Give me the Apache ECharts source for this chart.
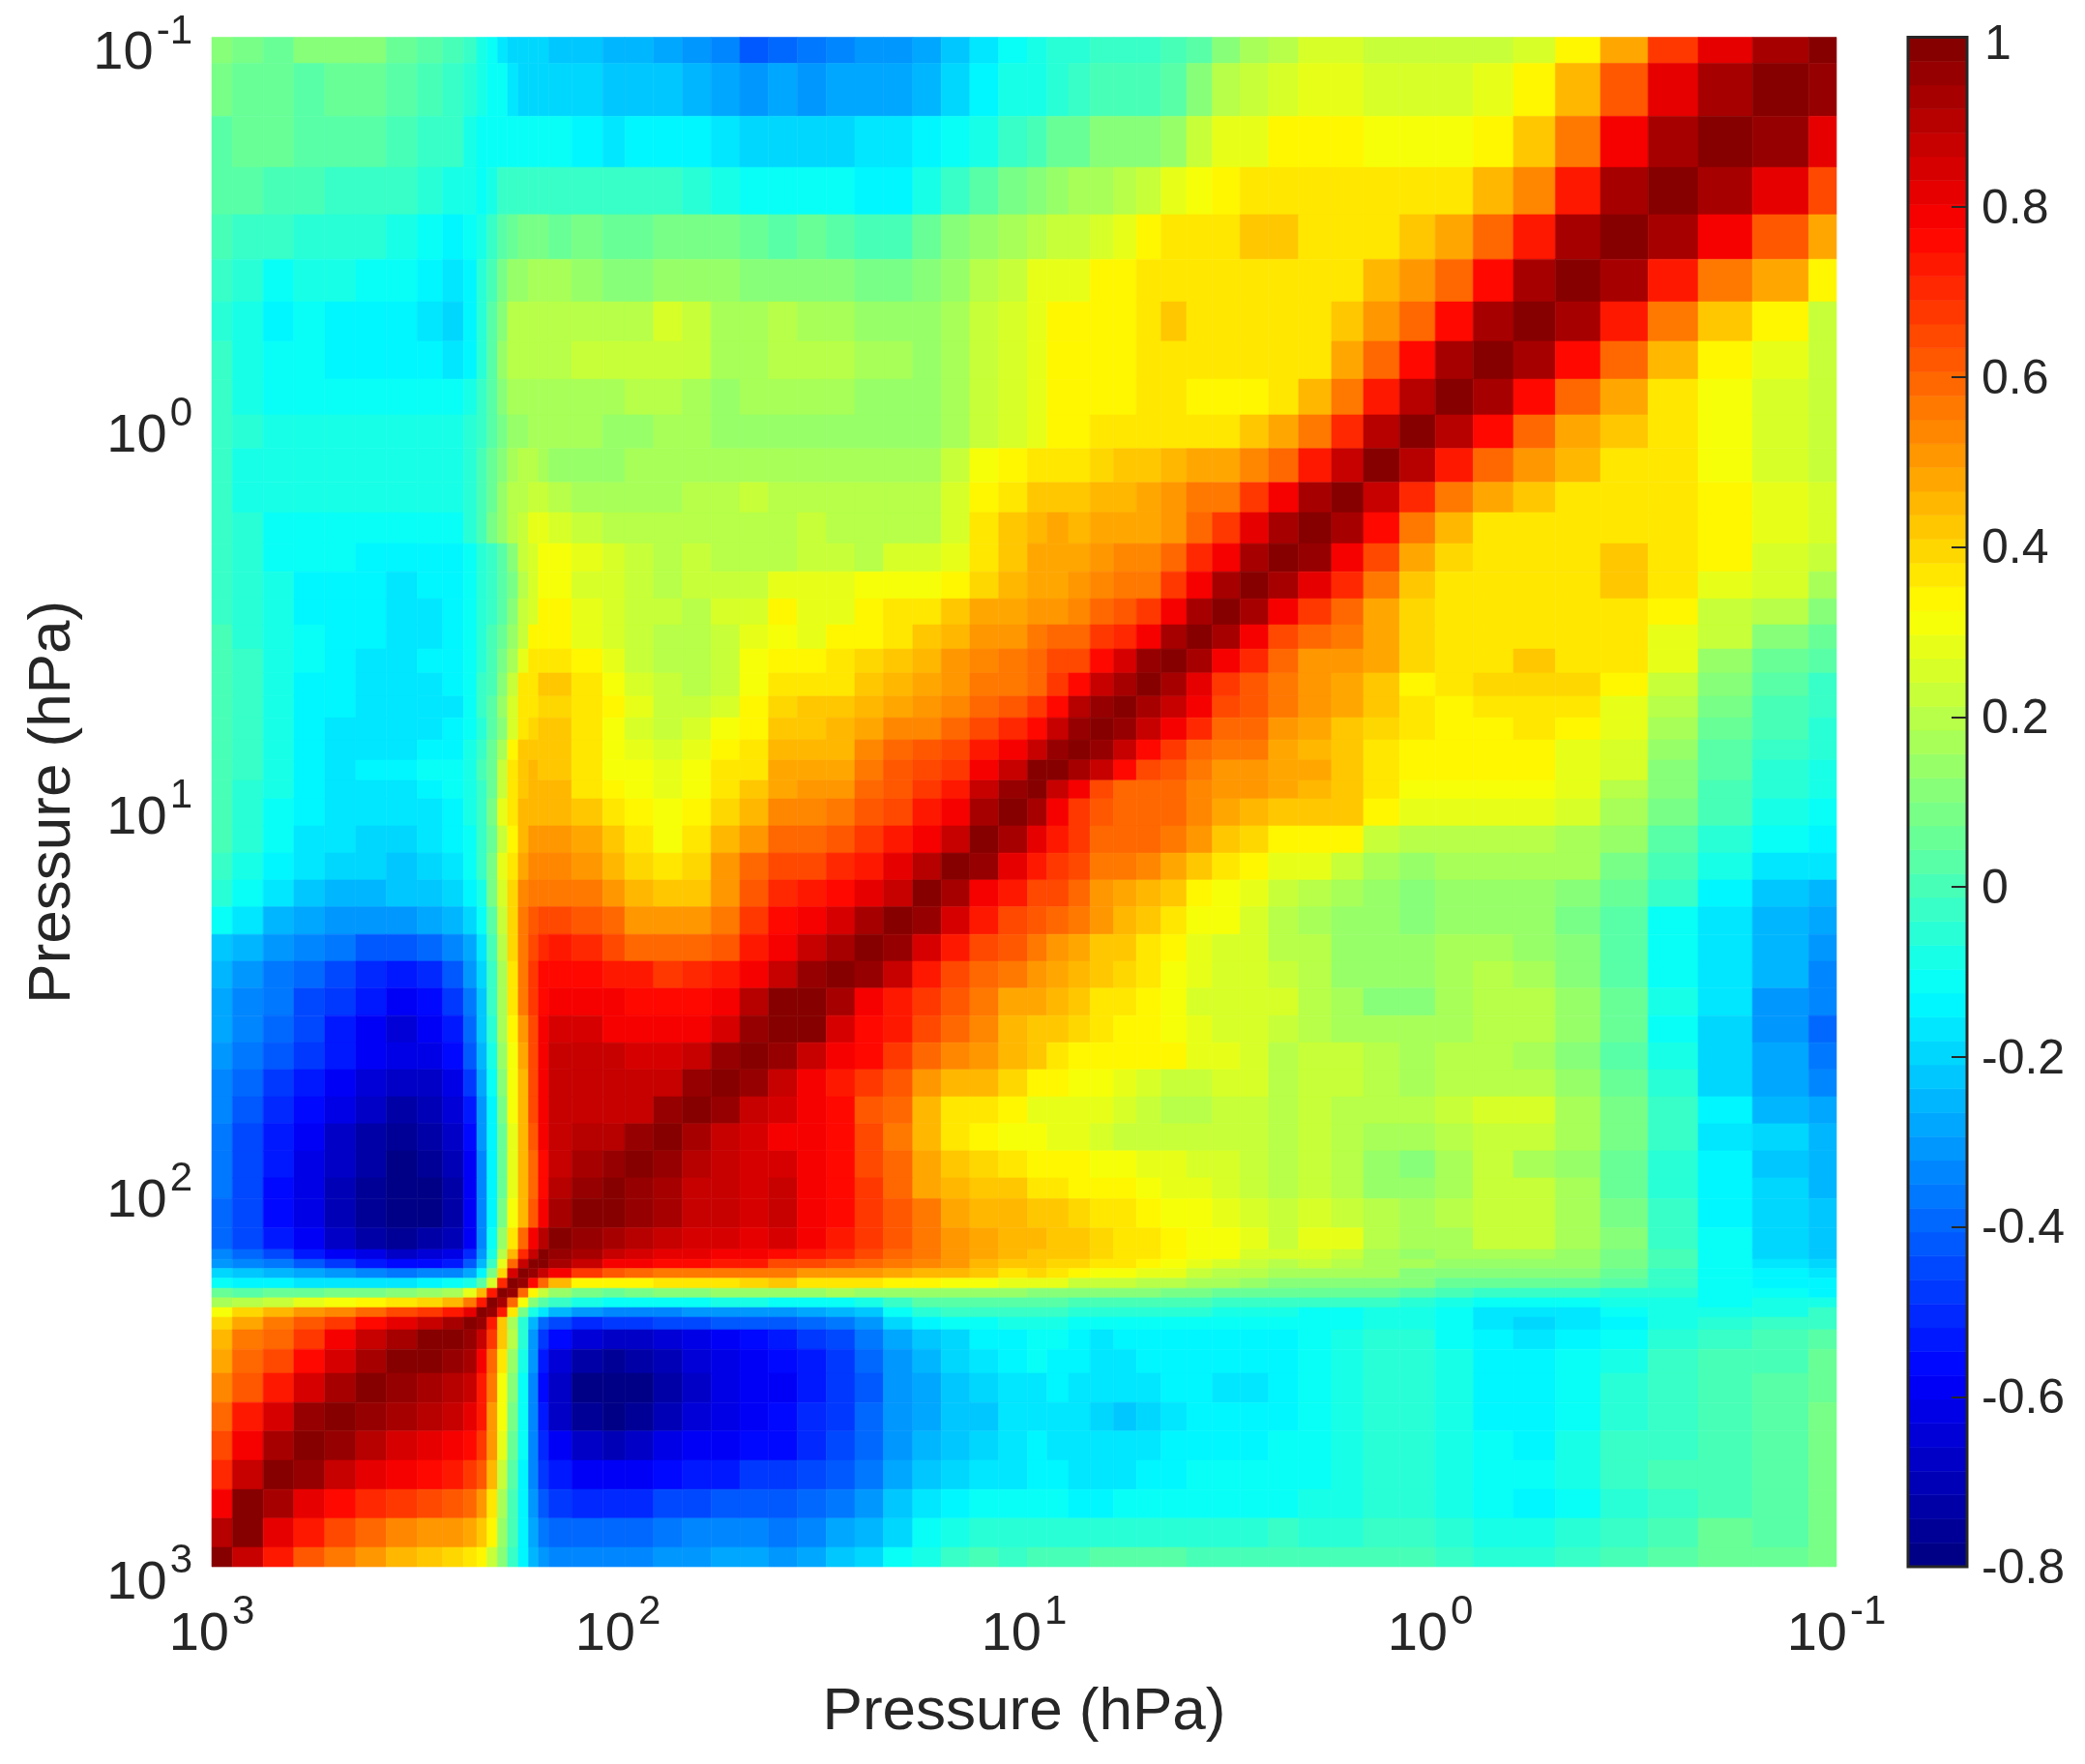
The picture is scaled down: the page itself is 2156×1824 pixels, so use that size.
<!DOCTYPE html>
<html>
<head>
<meta charset="utf-8">
<title>Pressure correlation</title>
<script src="https://cdn.jsdelivr.net/npm/echarts@6/dist/echarts.min.js"></script>
<style>
html,body{margin:0;padding:0;background:#fff;}
#chart{width:2156px;height:1824px;}
</style>
</head>
<body>
<div id="chart"></div>
<script>
// cell edges in hPa, from the bottom left corner to the top right corner
var pressureEdges = [1000,890,747,628,527,442,372,312,270,240,222.6,210,198,187,176,166,157,148,130,109,96.2,81.7,69.4,59.0,50.1,42.6,36.2,30.7,26.1,22.2,18.8,16.0,13.6,11.55,9.81,8.78,7.77,6.88,6.02,5.29,4.60,3.98,3.44,2.94,2.50,2.11,1.75,1.46,1.19,0.972,0.784,0.624,0.492,0.381,0.291,0.219,0.161,0.117,0.1];

// correlation x100. first row is the top of the plot, each row runs left to right
var correlationRows = [
[12,8,7,10,10,10,6,3,0,-4,-7,-11,-17,-19,-20,-20,-20,-21,-23,-25,-26,-27,-30,-34,-42,-38,-36,-33,-32,-30,-28,-22,-16,-11,-8,-6,-5,-4,-3,-3,0,3,10,17,20,25,25,22,22,22,22,26,33,49,68,83,94,100],
[8,7,6,4,6,6,3,0,-2,-5,-8,-10,-12,-18,-19,-19,-19,-19,-20,-21,-21,-22,-25,-28,-30,-28,-30,-27,-27,-27,-26,-20,-13,-9,-7,-5,-3,-1,0,0,3,12,20,22,26,29,29,25,25,25,28,33,46,62,83,94,98,96],
[4,5,7,3,4,4,1,-2,-4,-8,-10,-11,-12,-12,-12,-12,-12,-12,-14,-16,-15,-13,-15,-18,-19,-19,-19,-19,-17,-16,-14,-11,-7,-2,1,5,7,10,10,10,15,24,27,28,33,33,33,30,30,30,33,42,56,79,93,100,96,83],
[2,2,0,-1,-2,-2,-3,-5,-7,-9,-10,-8,-4,-3,-3,-3,-3,-3,-4,-4,-4,-4,-5,-7,-10,-10,-10,-12,-13,-13,-8,-3,3,8,11,13,16,16,20,23,28,31,33,37,38,38,38,36,36,36,44,54,73,92,100,93,83,66],
[-1,-3,-4,-5,-6,-6,-8,-10,-14,-12,-8,-2,2,6,8,8,8,7,8,6,6,8,9,8,6,4,5,2,-1,-1,5,10,13,16,20,22,22,26,29,33,36,38,38,41,42,38,38,38,42,47,58,73,93,100,93,79,63,49],
[-3,-6,-10,-9,-9,-10,-12,-14,-18,-14,-6,0,8,14,15,16,16,16,14,12,12,15,15,13,12,12,12,10,9,9,12,15,20,24,27,29,29,33,35,38,38,38,38,38,38,38,38,44,50,60,77,93,100,93,73,57,47,33],
[-5,-9,-13,-12,-14,-14,-15,-17,-19,-15,-6,2,12,19,21,21,21,21,21,19,21,25,22,16,18,19,18,17,15,15,15,17,22,25,29,33,33,35,35,38,41,38,36,38,38,38,41,50,60,77,93,100,93,73,55,42,33,24],
[-4,-9,-12,-12,-13,-13,-15,-14,-17,-14,-6,3,13,20,21,21,21,21,22,22,22,24,22,16,18,20,20,20,18,16,15,18,22,25,29,33,33,33,35,38,38,36,36,36,36,38,47,60,77,93,100,93,77,60,45,33,28,23],
[-3,-7,-10,-10,-10,-12,-10,-12,-11,-9,-3,4,12,17,18,18,18,18,16,16,19,19,17,15,16,17,17,17,15,15,15,16,22,25,29,33,33,33,33,36,36,35,35,35,38,44,55,72,89,100,93,77,60,47,36,30,25,22],
[-3,-6,-8,-8,-8,-8,-8,-8,-8,-6,-3,3,8,13,14,17,17,17,16,14,15,17,16,15,14,15,15,15,15,15,15,18,22,25,29,33,35,36,36,36,38,38,38,41,47,55,70,90,100,89,77,60,49,41,36,30,25,22],
[-3,-7,-9,-9,-9,-9,-9,-9,-8,-5,-1,5,12,17,19,19,18,15,15,15,16,18,18,16,17,17,17,17,17,17,18,22,30,34,36,36,37,40,42,42,45,47,47,53,60,72,87,100,91,74,60,50,45,38,36,30,25,22],
[-4,-8,-9,-9,-9,-9,-9,-9,-8,-5,0,6,14,19,20,22,22,20,18,18,17,18,20,20,22,20,20,19,19,19,21,25,33,38,41,41,41,44,46,47,50,55,57,68,80,93,100,87,70,55,47,42,38,38,38,33,29,25],
[-2,-6,-10,-11,-11,-11,-12,-12,-10,-6,0,8,15,19,24,27,27,25,22,21,19,19,19,19,19,20,22,20,20,20,21,26,36,42,45,47,44,47,47,47,50,58,68,82,94,100,94,75,55,46,38,38,38,38,38,33,29,25],
[-2,-6,-10,-12,-12,-13,-14,-15,-14,-10,-6,-2,4,10,22,26,30,30,29,26,22,21,22,21,20,20,24,24,20,25,25,28,37,43,47,47,47,50,54,54,60,70,80,93,100,95,80,65,49,39,36,38,38,42,38,33,26,22],
[-3,-6,-9,-14,-14,-14,-16,-15,-14,-10,-6,-2,3,9,21,26,31,31,26,25,22,20,22,23,23,27,29,29,30,31,32,35,40,44,47,47,50,53,56,56,68,79,92,100,94,82,70,55,43,36,36,38,38,42,38,29,25,17],
[-3,-6,-9,-14,-14,-14,-17,-16,-14,-10,-5,-2,4,12,22,26,33,33,28,25,23,23,20,25,26,33,29,29,33,36,37,42,47,48,50,50,53,58,62,68,80,93,100,94,78,68,58,49,39,36,36,36,38,38,33,24,19,12],
[-1,-5,-9,-12,-14,-14,-16,-16,-14,-10,-5,-1,6,14,24,33,33,33,27,25,22,20,19,23,28,30,28,33,35,38,43,46,50,50,55,58,60,67,70,80,92,100,93,78,66,58,56,49,39,36,36,38,38,38,29,22,12,5],
[1,-4,-8,-10,-14,-16,-16,-14,-14,-10,-5,0,8,17,27,36,38,38,33,27,24,20,19,22,30,33,33,36,40,43,45,50,54,55,60,65,66,76,84,95,100,94,78,70,58,52,50,47,39,38,38,42,38,36,28,15,5,2],
[1,-4,-8,-13,-15,-18,-16,-16,-15,-10,-4,1,10,24,36,38,42,42,37,30,26,22,20,23,30,38,38,38,42,46,47,50,56,56,60,67,76,88,94,100,93,83,68,63,56,50,47,43,35,36,39,39,39,33,22,10,2,-2],
[0,-4,-9,-14,-15,-18,-17,-17,-17,-12,-4,2,13,26,36,38,40,40,36,33,27,24,23,26,33,40,41,41,44,48,50,54,60,62,68,77,90,97,100,93,86,78,65,62,55,50,47,42,36,33,36,36,36,29,20,9,1,-3],
[0,-4,-9,-13,-16,-17,-17,-17,-15,-12,-6,2,10,26,38,40,42,41,38,32,26,24,26,30,35,43,42,44,49,53,54,58,64,70,77,88,95,100,97,88,80,70,60,58,50,49,42,40,36,33,33,36,33,27,16,6,-1,-5],
[0,-4,-9,-13,-17,-17,-16,-14,-13,-7,-2,5,16,33,42,42,42,41,36,32,28,26,28,33,36,44,44,45,53,58,62,66,72,79,88,96,100,95,88,77,68,60,55,55,48,46,42,37,33,33,33,33,29,25,15,4,-2,-5],
[0,-3,-9,-13,-16,-15,-14,-11,-11,-7,-1,5,22,36,42,44,41,41,36,30,30,28,30,36,38,47,47,48,56,61,65,69,78,88,98,100,92,86,76,65,62,55,50,52,47,49,42,37,33,33,33,33,29,25,12,2,-5,-8],
[-1,-5,-9,-13,-16,-16,-16,-14,-12,-8,-3,5,22,36,42,44,44,44,38,33,30,28,30,36,41,48,50,50,58,63,68,74,87,96,100,88,78,66,60,60,60,54,50,50,47,45,42,37,30,30,30,30,27,20,10,0,-6,-9],
[-1,-5,-10,-15,-17,-18,-18,-16,-15,-9,-3,8,28,36,44,46,46,46,42,37,33,30,33,39,45,53,53,56,62,66,72,80,94,100,93,80,68,62,60,60,60,53,47,46,43,42,42,33,27,27,27,27,25,18,8,-1,-8,-11],
[-1,-6,-11,-16,-18,-20,-20,-18,-15,-10,-4,5,22,34,44,50,50,50,47,42,38,32,38,44,50,58,60,63,67,72,78,88,100,94,83,74,67,60,60,58,57,50,42,40,33,33,33,23,20,20,20,20,18,13,4,-5,-11,-14],
[-2,-7,-13,-18,-20,-20,-21,-19,-17,-12,-3,8,28,36,48,53,53,53,50,46,40,38,40,50,60,65,66,70,74,82,90,100,95,83,74,69,64,57,55,53,48,43,37,33,28,27,24,17,14,16,16,17,16,9,0,-9,-16,-18],
[-5,-11,-18,-22,-25,-24,-23,-23,-20,-15,-8,8,26,40,53,57,57,57,55,50,46,42,42,50,62,70,72,76,82,88,100,93,80,72,66,66,60,50,48,46,42,35,32,28,22,20,18,13,12,14,15,14,12,5,-3,-14,-22,-25],
[-10,-16,-24,-28,-30,-30,-30,-28,-26,-20,-12,3,22,40,57,62,66,66,62,58,52,50,50,56,68,76,78,84,93,100,95,84,74,66,62,60,55,50,45,42,36,31,31,26,20,18,15,13,12,15,15,15,9,2,-10,-18,-24,-27],
[-22,-25,-32,-35,-37,-42,-42,-38,-34,-28,-18,0,20,40,56,66,70,72,70,66,60,58,58,62,72,80,86,92,100,96,84,72,66,62,56,50,48,43,42,38,33,28,25,25,19,20,15,13,13,17,18,15,10,2,-12,-18,-24,-32],
[-26,-30,-36,-40,-44,-50,-52,-50,-42,-32,-20,-2,18,38,56,68,75,77,76,72,72,68,70,72,80,86,95,100,95,87,72,65,60,55,50,48,44,42,40,38,32,27,25,26,24,20,15,13,13,18,19,18,12,3,-10,-18,-24,-34],
[-27,-33,-37,-44,-48,-54,-58,-56,-48,-36,-22,-4,18,38,55,68,76,79,78,78,77,76,76,80,90,98,100,93,80,72,67,61,55,48,47,45,42,38,37,33,30,26,25,26,26,20,18,12,12,18,19,19,13,5,-8,-18,-30,-35],
[-28,-33,-38,-45,-52,-58,-65,-60,-52,-40,-23,-5,16,34,50,66,78,84,84,80,80,80,78,85,97,100,98,85,76,72,66,60,53,46,42,42,40,36,35,33,30,28,26,26,24,20,18,16,17,18,19,19,13,5,-10,-20,-30,-38],
[-32,-36,-42,-48,-54,-58,-63,-62,-56,-42,-24,-8,14,32,48,66,78,86,87,86,84,84,87,96,100,96,88,80,75,68,59,54,50,45,42,38,35,34,33,33,33,28,27,25,21,24,24,19,17,19,20,17,10,3,-8,-20,-29,-37],
[-34,-40,-48,-54,-60,-65,-68,-67,-62,-48,-28,-12,10,30,46,66,80,87,88,87,86,88,96,100,96,88,80,73,68,62,52,46,44,40,35,33,30,30,28,26,24,24,25,25,20,23,23,20,18,19,21,21,15,5,-6,-19,-29,-33],
[-35,-42,-50,-56,-62,-68,-72,-70,-64,-52,-30,-14,8,30,46,64,80,87,88,88,88,95,100,95,88,84,80,77,63,58,45,38,36,33,28,27,27,27,25,24,20,20,22,23,19,23,20,20,20,23,26,26,18,8,-4,-15,-25,-28],
[-36,-44,-52,-59,-66,-72,-76,-74,-68,-56,-32,-15,6,28,44,62,78,87,90,90,96,100,94,88,84,80,78,76,66,57,45,38,33,31,30,28,28,26,24,24,23,23,24,24,19,23,19,17,17,20,23,23,16,8,-3,-16,-20,-26],
[-36,-45,-54,-61,-68,-74,-78,-77,-70,-58,-34,-14,6,28,44,60,76,88,92,96,100,95,90,87,84,84,80,75,65,58,48,43,39,36,34,33,33,31,30,27,27,26,25,24,19,23,19,13,12,18,23,18,14,6,-5,-15,-22,-25],
[-37,-46,-55,-62,-70,-76,-79,-78,-72,-58,-34,-14,6,28,44,58,76,90,95,100,97,93,88,86,84,86,80,75,67,60,48,44,43,41,38,36,34,33,33,30,28,27,26,24,20,23,20,15,15,18,23,22,17,6,-5,-15,-20,-24],
[-38,-46,-55,-62,-70,-77,-80,-79,-73,-58,-34,-13,8,30,46,62,80,93,100,98,96,92,88,86,84,87,80,76,69,63,56,48,46,44,42,41,39,38,36,34,30,30,27,26,23,26,22,20,16,19,23,22,17,8,-4,-13,-19,-21],
[-38,-46,-54,-60,-66,-73,-76,-74,-70,-58,-35,-10,14,38,60,78,90,100,97,93,90,87,85,84,82,84,78,73,68,62,57,50,47,45,44,42,42,39,38,37,33,32,32,27,24,27,27,19,17,18,22,22,16,10,-2,-12,-19,-21],
[-33,-40,-46,-52,-58,-63,-66,-65,-61,-50,-32,-8,20,45,70,88,100,97,92,87,84,83,82,80,78,76,72,70,65,60,56,50,47,44,43,42,42,39,38,36,33,32,30,26,25,25,22,18,15,17,18,17,14,9,-1,-12,-19,-21],
[-30,-33,-37,-42,-47,-52,-55,-55,-52,-43,-25,-2,28,60,86,100,98,93,86,80,78,76,75,74,72,66,64,63,60,57,53,50,45,43,42,40,39,38,36,34,31,29,26,23,20,22,20,18,16,15,15,15,13,8,-1,-12,-18,-20],
[-20,-23,-26,-29,-32,-35,-36,-35,-33,-28,-14,8,40,85,100,95,88,78,68,62,58,56,55,55,55,55,52,52,50,48,46,45,42,38,39,38,34,31,30,29,27,23,21,20,16,17,17,16,12,12,10,10,10,5,-2,-12,-15,-18],
[-12,-14,-15,-16,-17,-16,-16,-14,-12,-8,4,26,70,100,95,75,60,46,33,33,34,36,37,37,40,42,38,38,38,35,34,32,30,28,28,29,24,22,22,21,20,17,16,14,12,12,12,11,10,7,7,7,6,3,-3,-12,-13,-15],
[5,4,5,6,8,9,10,14,18,28,45,72,100,95,60,35,22,14,8,7,8,10,12,13,14,15,14,16,14,14,14,14,13,13,12,12,10,10,10,10,9,8,7,6,6,6,6,5,4,0,-2,-2,-2,-5,-6,-12,-12,-13],
[18,20,24,27,30,34,36,40,46,56,72,100,92,60,30,10,2,-4,-8,-10,-11,-10,-10,-9,-8,-10,-10,-10,-7,-2,2,3,4,3,4,3,1,1,0,0,-1,-1,-2,-2,-3,-3,-3,-2,-5,-7,-10,-10,-10,-9,-8,-10,-9,-8],
[32,40,46,50,54,60,64,68,74,82,100,95,72,38,8,-8,-16,-24,-30,-33,-33,-34,-32,-30,-30,-30,-28,-25,-22,-12,-6,-4,-3,-2,-3,-3,-6,-6,-6,-5,-5,-6,-7,-7,-8,-10,-10,-7,-7,-12,-16,-17,-16,-12,-9,-8,-7,-4],
[40,48,55,62,68,76,82,88,94,100,95,72,42,18,-6,-26,-38,-46,-50,-48,-47,-46,-44,-42,-41,-42,-40,-36,-30,-20,-13,-10,-10,-8,-8,-8,-10,-10,-10,-10,-10,-10,-10,-10,-10,-10,-12,-7,-9,-12,-17,-19,-17,-15,-9,-6,-4,-2],
[45,55,60,68,78,86,93,99,100,96,88,68,42,20,-6,-30,-47,-56,-64,-67,-66,-64,-62,-60,-56,-53,-48,-44,-36,-27,-23,-20,-15,-13,-11,-12,-14,-17,-14,-13,-13,-13,-14,-14,-14,-10,-7,-5,-5,-12,-15,-18,-15,-11,-6,-3,0,4],
[48,58,66,75,85,94,98,100,97,93,78,60,36,14,-8,-32,-52,-64,-74,-76,-74,-70,-65,-62,-60,-57,-53,-48,-40,-30,-25,-20,-17,-15,-11,-13,-15,-18,-17,-14,-14,-13,-13,-14,-14,-12,-7,-5,-5,-7,-15,-15,-12,-7,-3,-1,1,5],
[53,63,74,85,94,100,96,93,90,86,74,55,32,10,-10,-34,-55,-68,-78,-80,-78,-72,-67,-62,-60,-58,-54,-48,-42,-32,-27,-22,-20,-18,-17,-14,-17,-18,-18,-17,-15,-15,-17,-17,-14,-12,-7,-5,-5,-7,-13,-15,-12,-6,-2,1,3,6],
[58,72,84,95,100,96,92,89,86,83,72,52,30,8,-10,-34,-54,-67,-76,-78,-76,-70,-65,-61,-60,-57,-51,-47,-40,-32,-27,-23,-21,-18,-18,-18,-18,-20,-21,-19,-17,-15,-14,-13,-13,-12,-7,-5,-5,-9,-15,-15,-10,-5,-2,1,3,9],
[64,80,92,100,97,89,85,83,80,76,68,50,28,5,-12,-33,-50,-60,-68,-70,-68,-63,-60,-58,-55,-55,-50,-45,-38,-30,-25,-22,-20,-17,-15,-17,-18,-18,-18,-17,-15,-13,-13,-13,-12,-10,-7,-5,-5,-8,-12,-14,-8,-4,-2,1,3,9],
[70,88,100,96,87,82,78,75,72,68,62,44,22,2,-14,-34,-47,-54,-60,-60,-60,-56,-53,-52,-49,-48,-45,-42,-36,-28,-22,-19,-16,-16,-13,-14,-17,-17,-17,-15,-14,-12,-12,-12,-11,-10,-7,-6,-6,-7,-12,-12,-8,-4,-1,1,3,8],
[78,100,93,82,75,70,67,64,62,58,52,38,18,0,-15,-30,-42,-47,-50,-50,-50,-46,-45,-43,-42,-43,-40,-36,-31,-23,-17,-13,-12,-12,-11,-12,-13,-13,-12,-12,-10,-10,-11,-10,-10,-7,-7,-6,-6,-7,-12,-14,-10,-5,-2,1,2,8],
[90,100,83,73,65,59,54,52,50,47,42,33,15,-1,-15,-28,-36,-38,-40,-39,-38,-36,-35,-33,-33,-37,-33,-28,-25,-19,-11,-7,-5,-5,-5,-5,-5,-6,-5,-6,-6,-5,-5,-5,-4,-5,-5,-4,-4,-6,-8,-9,-5,-2,1,5,4,8],
[100,87,72,62,55,50,45,42,40,37,33,24,10,-2,-14,-24,-30,-33,-34,-33,-33,-30,-30,-28,-27,-30,-27,-23,-20,-12,-7,-3,-1,-2,-1,0,0,2,2,3,3,1,0,1,1,-1,-1,0,0,-3,-5,-5,-3,0,3,5,6,9]
];

var colorMin = -0.8;
var colorMax = 1;
var colorSteps = 64;

var textColor = '#262626';
var fontName = '"Liberation Sans", Arial, sans-serif';

function clamp01(v) {
    return Math.max(0, Math.min(1, v));
}

// matlab jet, cut in 64 steps
function jetColor(value) {
    var i = Math.floor((value - colorMin) / (colorMax - colorMin) * colorSteps);
    i = Math.max(0, Math.min(colorSteps - 1, i));
    var t = (i + 0.5) / colorSteps;
    var r = clamp01(1.5 - Math.abs(4 * t - 3));
    var g = clamp01(1.5 - Math.abs(4 * t - 2));
    var b = clamp01(1.5 - Math.abs(4 * t - 1));
    return 'rgb(' + Math.round(r * 255) + ',' + Math.round(g * 255) + ',' + Math.round(b * 255) + ')';
}

var cells = [];
for (var r = 0; r < correlationRows.length; r++) {
    var rowIndex = correlationRows.length - 1 - r;
    for (var c = 0; c < correlationRows[r].length; c++) {
        cells.push([pressureEdges[c], pressureEdges[c + 1], pressureEdges[rowIndex], pressureEdges[rowIndex + 1], correlationRows[r][c] / 100]);
    }
}

var bands = [];
for (var s = 0; s < colorSteps; s++) {
    var low = colorMin + (colorMax - colorMin) * s / colorSteps;
    var high = colorMin + (colorMax - colorMin) * (s + 1) / colorSteps;
    bands.push([low, high]);
}

function renderCell(params, api) {
    var a = api.coord([api.value(0), api.value(2)]);
    var b = api.coord([api.value(1), api.value(3)]);
    var color = jetColor(api.value(4));
    return {
        type: 'rect',
        shape: {x: Math.min(a[0], b[0]), y: Math.min(a[1], b[1]), width: Math.abs(b[0] - a[0]), height: Math.abs(b[1] - a[1])},
        style: {fill: color, stroke: color, lineWidth: 0.6}
    };
}

function renderBand(params, api) {
    var a = api.coord([0, api.value(0)]);
    var b = api.coord([1, api.value(1)]);
    var color = jetColor((api.value(0) + api.value(1)) / 2);
    return {
        type: 'rect',
        shape: {x: a[0], y: b[1], width: b[0] - a[0], height: a[1] - b[1]},
        style: {fill: color, stroke: color, lineWidth: 0.6}
    };
}

// dark outline around the colour bar
function renderFrame(params, api) {
    var a = api.coord([0, colorMin]);
    var b = api.coord([1, colorMax]);
    return {
        type: 'rect',
        shape: {x: a[0], y: b[1], width: b[0] - a[0], height: a[1] - b[1]},
        style: {fill: null, stroke: textColor, lineWidth: 3}
    };
}

function powerLabel(value) {
    return '{b|10}{s|' + Math.round(Math.log10(value)) + '}';
}

// both tokens get the same height, the padding lifts the exponent above the 10
var powerRich = {
    b: {fontSize: 56, fontFamily: fontName, color: textColor, lineHeight: 42, padding: [17, 0, 0, 0]},
    s: {fontSize: 42, fontFamily: fontName, color: textColor, lineHeight: 30, padding: [0, 0, 29, 3]}
};

var myChart = echarts.init(document.getElementById('chart'), null, {renderer: 'canvas'});

var option = {
    animation: false,
    backgroundColor: '#fff',
    grid: [
        {left: 219, top: 38.5, width: 1680, height: 1581.5, outerBoundsMode: 'none'},
        {left: 1973, top: 38.5, width: 61, height: 1581.5, outerBoundsMode: 'none'}
    ],
    xAxis: [
        {
            type: 'log',
            gridIndex: 0,
            logBase: 10,
            min: 0.1,
            max: 1000,
            inverse: true,
            name: 'Pressure (hPa)',
            nameLocation: 'middle',
            nameGap: 120,
            nameTextStyle: {fontSize: 62, fontFamily: fontName, color: textColor},
            axisLine: {show: false},
            axisTick: {show: false},
            minorTick: {show: false},
            splitLine: {show: false},
            axisLabel: {formatter: powerLabel, rich: powerRich, margin: 41, showMinLabel: true, showMaxLabel: true, hideOverlap: false}
        },
        {
            type: 'value',
            gridIndex: 1,
            min: 0,
            max: 1,
            axisLine: {show: false},
            axisTick: {show: false},
            axisLabel: {show: false},
            splitLine: {show: false}
        }
    ],
    yAxis: [
        {
            type: 'log',
            gridIndex: 0,
            logBase: 10,
            min: 0.1,
            max: 1000,
            inverse: true,
            name: 'Pressure (hPa)',
            nameLocation: 'middle',
            nameGap: 133,
            nameTextStyle: {fontSize: 62, fontFamily: fontName, color: textColor},
            axisLine: {show: false},
            axisTick: {show: false},
            minorTick: {show: false},
            splitLine: {show: false},
            axisLabel: {formatter: powerLabel, rich: powerRich, margin: 20, padding: [18, 0, 0, 0], showMinLabel: true, showMaxLabel: true, hideOverlap: false}
        },
        {
            type: 'value',
            gridIndex: 1,
            position: 'right',
            min: colorMin,
            max: colorMax,
            interval: 0.2,
            z: 5,
            axisLine: {show: false, onZero: false},
            axisTick: {show: true, inside: true, length: 16, lineStyle: {color: textColor, width: 2}},
            splitLine: {show: false},
            axisLabel: {
                fontSize: 50,
                fontFamily: fontName,
                color: textColor,
                margin: 15,
                padding: [6, 0, 0, 0],
                rich: {
                    top: {fontSize: 50, fontFamily: fontName, color: textColor, padding: [12, 0, 0, 3]}
                },
                formatter: function (v) {
                    var label = String(Math.round(v * 10) / 10);
                    return label === '1' ? '{top|1}' : label;
                }
            }
        }
    ],
    series: [
        {
            type: 'custom',
            xAxisIndex: 0,
            yAxisIndex: 0,
            clip: true,
            silent: true,
            renderItem: renderCell,
            encode: {x: [0, 1], y: [2, 3]},
            data: cells
        },
        {
            type: 'custom',
            xAxisIndex: 1,
            yAxisIndex: 1,
            silent: true,
            z: 1,
            renderItem: renderBand,
            encode: {y: [0, 1]},
            data: bands
        },
        {
            type: 'custom',
            xAxisIndex: 1,
            yAxisIndex: 1,
            silent: true,
            z: 3,
            clip: false,
            renderItem: renderFrame,
            data: [[0]]
        }
    ]
};

myChart.setOption(option);
</script>
</body>
</html>
